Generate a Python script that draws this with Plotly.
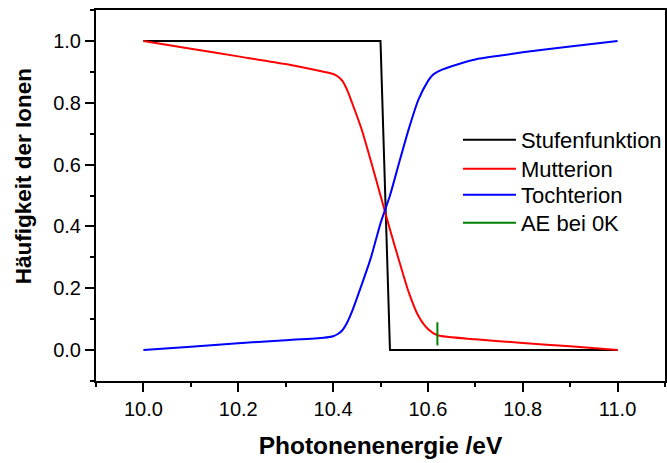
import plotly.graph_objects as go

# Data
step_x = [10.0, 10.5, 10.52, 11.0]
step_y = [1.0, 1.0, 0.0, 0.0]

mutter_x = [10.0, 10.1, 10.2, 10.3, 10.38, 10.40, 10.41, 10.42, 10.43, 10.44, 10.46, 10.48,
            10.50, 10.52, 10.54, 10.56, 10.58, 10.60, 10.62, 10.70, 10.80, 10.90, 11.0]
mutter_y = [1.0, 0.975, 0.95, 0.925, 0.90, 0.893, 0.885, 0.87, 0.84, 0.80, 0.715, 0.61,
            0.50, 0.39, 0.285, 0.185, 0.11, 0.068, 0.048, 0.035, 0.023, 0.012, 0.0]

tochter_x = [10.0, 10.1, 10.2, 10.3, 10.38, 10.40, 10.41, 10.42, 10.43, 10.44, 10.46, 10.48,
             10.50, 10.52, 10.54, 10.56, 10.58, 10.60, 10.61, 10.62, 10.63, 10.65, 10.70,
             10.75, 10.80, 10.90, 11.0]
tochter_y = [0.0, 0.011, 0.022, 0.032, 0.040, 0.045, 0.052, 0.065, 0.09, 0.125, 0.21, 0.30,
             0.41, 0.50, 0.61, 0.717, 0.81, 0.87, 0.89, 0.90, 0.907, 0.918, 0.94,
             0.952, 0.963, 0.982, 1.0]

ae_x = [10.62, 10.62]
ae_y = [0.015, 0.09]

series_names = ["Stufenfunktion", "Mutterion", "Tochterion", "AE bei 0K"]
series_colors = ["black", "#ff0000", "#0000ff", "#008000"]

FONT = "Liberation Sans, Arial, sans-serif"

fig = go.Figure()
datasets = [(step_x, step_y, "linear"), (mutter_x, mutter_y, "spline"),
            (tochter_x, tochter_y, "spline"), (ae_x, ae_y, "linear")]
legend_ids = ["legend", "legend2", "legend3", "legend4"]
for (xs, ys, shp), name, col, lg in zip(datasets, series_names, series_colors, legend_ids):
    line = dict(color=col, width=2, shape=shp)
    if shp == "spline":
        line["smoothing"] = 0.6
    fig.add_trace(go.Scatter(x=xs, y=ys, mode="lines", name=name, line=line, legend=lg))

legend_centers = [0.6496, 0.5714, 0.5013, 0.4259]
legend_common = dict(x=0.635, xanchor="left", yanchor="middle",
                     bgcolor="rgba(0,0,0,0)", font=dict(size=22, color="black", family=FONT),
                     itemwidth=53)
legend_layout = {lg: dict(y=yc, **legend_common) for lg, yc in zip(legend_ids, legend_centers)}

fig.update_layout(
    width=667, height=463,
    margin=dict(l=96, r=1, t=10, b=82),
    paper_bgcolor="white", plot_bgcolor="white",
    font=dict(family=FONT, size=20, color="black"),
    showlegend=True,
    xaxis=dict(range=[9.9, 11.1], tick0=10.0, dtick=0.2, tickformat=".1f",
               showgrid=False, zeroline=False,
               showline=True, linecolor="black", linewidth=2, mirror=True,
               ticks="outside", ticklen=9, tickwidth=1.5, tickcolor="black",
               minor=dict(dtick=0.1, ticks="outside", ticklen=4, tickwidth=1.5, tickcolor="black"),
               title=dict(text="<b>Photonenenergie /eV</b>", font=dict(size=24.5), standoff=18)),
    yaxis=dict(range=[-0.1, 1.1], tick0=0.0, dtick=0.2, tickformat=".1f",
               showgrid=False, zeroline=False,
               showline=True, linecolor="black", linewidth=2, mirror=True,
               ticks="outside", ticklen=9, tickwidth=1.5, tickcolor="black",
               minor=dict(dtick=0.1, ticks="outside", ticklen=4, tickwidth=1.5, tickcolor="black")),
    annotations=[dict(text="<b>Häufigkeit der Ionen</b>", textangle=-90,
                      xref="paper", yref="paper", x=-0.126, y=0.5526,
                      xanchor="center", yanchor="middle", showarrow=False,
                      font=dict(size=22.5, family=FONT, color="black"))],
    **legend_layout,
)

fig.write_html("out.html")
